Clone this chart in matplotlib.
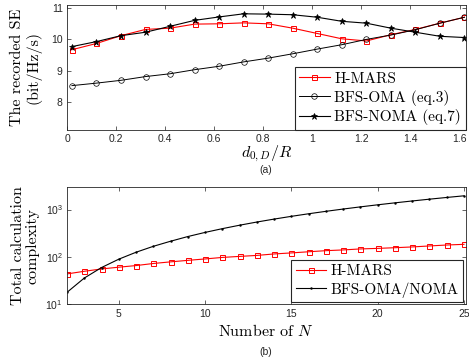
import matplotlib
matplotlib.use("Agg")
import matplotlib.pyplot as plt

# (a) 평균 SE vs d_{0,D}/R
d_ratio = [0.02, 0.12, 0.22, 0.32, 0.42, 0.52, 0.62, 0.72, 0.82,
           0.92, 1.02, 1.12, 1.22, 1.32, 1.42, 1.52, 1.62]
se_hmars = [9.67, 9.87, 10.12, 10.32, 10.36, 10.49, 10.50, 10.53, 10.50,
            10.36, 10.19, 10.02, 9.95, 10.15, 10.32, 10.52, 10.71]
se_oma = [8.52, 8.60, 8.69, 8.81, 8.90, 9.03, 9.14, 9.28, 9.40,
          9.54, 9.69, 9.83, 10.00, 10.14, 10.31, 10.52, 10.71]
se_noma = [9.77, 9.93, 10.12, 10.23, 10.42, 10.61, 10.72, 10.82, 10.81,
           10.79, 10.71, 10.58, 10.52, 10.36, 10.23, 10.10, 10.06]
xt_a = [0, 0.2, 0.4, 0.6, 0.8, 1.0, 1.2, 1.4, 1.6]
xt_a_labels = ["0", "0.2", "0.4", "0.6", "0.8", "1", "1.2", "1.4", "1.6"]
yt_a = [8, 9, 10, 11]

# (b) 계산 복잡도 vs N
n_users = list(range(2, 26))
cx_hmars = [44, 50, 56, 61, 66, 73, 79, 85, 91, 98, 103, 108,
            116, 122, 129, 136, 141, 148, 152, 157, 163, 171, 179, 185]
cx_bfs = [18, 36, 60, 90, 126, 168, 215, 270, 330, 396, 468, 546,
          630, 720, 816, 918, 1026, 1140, 1260, 1386, 1518, 1656, 1800, 1950]
xt_b = [5, 10, 15, 20, 25]
yt_b = [10, 100, 1000]

plt.rcParams["font.family"] = ["Liberation Sans", "DejaVu Sans"]
plt.rcParams["mathtext.fontset"] = "custom"
plt.rcParams["mathtext.rm"] = "Liberation Sans"
plt.rcParams["mathtext.it"] = "Liberation Sans:italic"
plt.rcParams["xtick.direction"] = "in"
plt.rcParams["ytick.direction"] = "in"

SERIF = "cmr10"
TICK_C = "#262626"
LAB_FS = 11.5
LEG_FS = 11

fig = plt.figure(figsize=(4.69, 3.62), dpi=100)
ax1 = fig.add_axes([0.1429, 0.641, 0.850, 0.345])
ax2 = fig.add_axes([0.1429, 0.159, 0.850, 0.3246])

ax1.plot(d_ratio, se_hmars, color="red", lw=0.8, marker="s", ms=3.6,
         mfc="none", mew=0.7, label="H-MARS")
ax1.plot(d_ratio, se_oma, color="black", lw=0.7, marker="o", ms=4.0,
         mfc="none", mew=0.5, label="BFS-OMA (eq.3)")
ax1.plot(d_ratio, se_noma, color="black", lw=0.8, marker="*", ms=4.5,
         mew=0.5, label="BFS-NOMA (eq.7)")
ax1.set_xlim(0, 1.625)
ax1.set_ylim(7.1, 11.1)
ax1.set_xticks(xt_a)
ax1.set_xticklabels(xt_a_labels)
ax1.set_yticks(yt_a)
ax1.set_xlabel(r"$d_{0,D}/R$", fontsize=LAB_FS, labelpad=0, math_fontfamily="cm")
ax1.set_ylabel("The recorded SE\n(bit/Hz/s)", family=SERIF, fontsize=LAB_FS,
               labelpad=7, linespacing=1.1)
leg1 = ax1.legend(loc="lower right", prop={"family": SERIF, "size": LEG_FS},
                  borderaxespad=0, handlelength=2.0, labelspacing=0.25,
                  borderpad=0.3, handletextpad=0.3, fancybox=False,
                  edgecolor="#262626", framealpha=1)
leg1.get_frame().set_linewidth(0.8)

ax2.plot(n_users, cx_hmars, color="red", lw=0.8, marker="s", ms=3.6,
         mfc="none", mew=0.7, label="H-MARS")
ax2.plot(n_users, cx_bfs, color="black", lw=0.8, marker=".", ms=1.5,
         label="BFS-OMA/NOMA")
ax2.set_yscale("log")
ax2.set_xlim(2, 25.1)
ax2.set_ylim(10, 3000)
ax2.set_xticks(xt_b)
ax2.set_yticks(yt_b)
ax2.minorticks_off()
ax2.set_xlabel(r"Number of $N$", family=SERIF, fontsize=LAB_FS, labelpad=3,
               math_fontfamily="cm")
ax2.set_ylabel("Total calculation\ncomplexity", family=SERIF, fontsize=LAB_FS,
               labelpad=4, linespacing=1.1)
leg2 = ax2.legend(loc="lower right", prop={"family": SERIF, "size": LEG_FS},
                  borderaxespad=0.15, handlelength=2.0, labelspacing=0.25,
                  borderpad=0.3, handletextpad=0.3, fancybox=False,
                  edgecolor="#262626", framealpha=1)
leg2.get_frame().set_linewidth(0.8)

for ax in (ax1, ax2):
    ax.tick_params(which="both", top=True, right=True, length=3, width=0.5,
                   labelsize=7.5, colors=TICK_C, pad=3)
    for sp in ax.spines.values():
        sp.set_linewidth(0.6)
        sp.set_color(TICK_C)

fig.text(0.566, 0.530, "(a)", fontsize=7.5, ha="center", va="center", color=TICK_C)
fig.text(0.566, 0.028, "(b)", fontsize=7.5, ha="center", va="center", color=TICK_C)

fig.savefig("out.png", dpi=100)
